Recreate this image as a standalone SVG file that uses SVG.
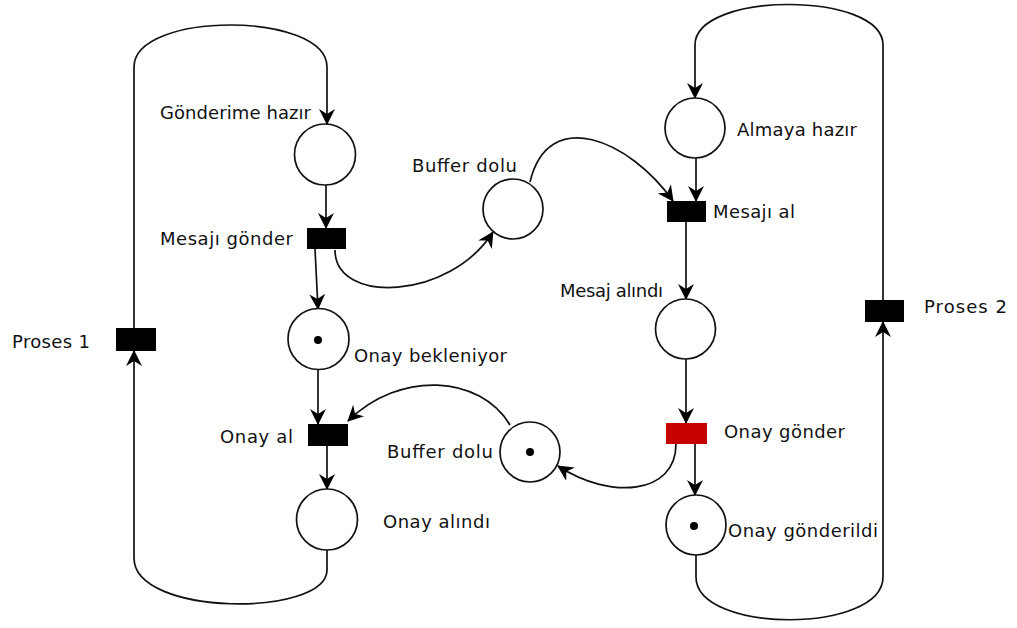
<svg xmlns="http://www.w3.org/2000/svg" width="1017" height="628" viewBox="0 0 1017 628">
  <style>
    .place { fill: #ffffff; stroke: #111111; stroke-width: 1.7; }
    .token { fill: #000000; }
    .trans { fill: #000000; }
    .trans-red { fill: #c40000; }
    .arc { fill: none; stroke: #111111; stroke-width: 1.7; marker-end: url(#arrow); }
    text { font-family: "DejaVu Sans", "Liberation Sans", sans-serif; font-size: 18px; fill: #111111; }
  </style>
  <defs>
    <marker id="arrow" viewBox="0 0 16 16" refX="15" refY="8" markerWidth="16" markerHeight="16" markerUnits="userSpaceOnUse" orient="auto">
      <path d="M0,0 L16,8 L0,16 L5,8 Z" fill="#000000"/>
    </marker>
  </defs>
  <rect width="1017" height="628" fill="#ffffff"/>

  <!-- arcs between places and transitions -->
  <g id="connectors">
    <!-- process 1 loop -->
    <path class="arc" d="M134,328 L134,67 C134,11 327,11 327,67 L327,124"/>
    <path class="arc" d="M326,185 L326,228"/>
    <path class="arc" d="M315,249 L318,309"/>
    <path class="arc" d="M335,250 C335,305 450,300 493,232"/>
    <path class="arc" d="M318,369 L318,424"/>
    <path class="arc" d="M327,446 L327,489"/>
    <path class="arc" d="M327,550 L327,570 C327,617 134,617 134,558 L134,351"/>
    <!-- buffers -->
    <path class="arc" d="M530,182 C548,105 630,140 673,201"/>
    <path class="arc" d="M510,425 C480,375 400,370 348,421"/>
    <path class="arc" d="M676,444 C676,495 610,500 558,466"/>
    <!-- process 2 loop -->
    <path class="arc" d="M883,300 L883,45 C883,-9 695,-9 695,45 L695,98"/>
    <path class="arc" d="M696,158 L696,201"/>
    <path class="arc" d="M686,222 L686,299"/>
    <path class="arc" d="M686,359 L686,423"/>
    <path class="arc" d="M695,444 L695,495"/>
    <path class="arc" d="M696,555 L696,577 C696,634 883,634 883,577 L883,322"/>
  </g>

  <!-- places -->
  <g id="p-gonderime-hazir">
    <circle class="place" cx="325" cy="154.5" r="30.5"/>
    <text x="160" y="119" textLength="151" lengthAdjust="spacing">Gönderime hazır</text>
  </g>
  <g id="p-buffer-dolu-1">
    <circle class="place" cx="513" cy="209" r="30"/>
    <text x="412" y="172" textLength="105" lengthAdjust="spacing">Buffer dolu</text>
  </g>
  <g id="p-almaya-hazir">
    <circle class="place" cx="695" cy="128" r="30"/>
    <text x="737" y="136" textLength="120" lengthAdjust="spacing">Almaya hazır</text>
  </g>
  <g id="p-onay-bekleniyor">
    <circle class="place" cx="318.5" cy="339" r="30.5"/>
    <circle class="token" cx="318" cy="340" r="4"/>
    <text x="354" y="362" textLength="153" lengthAdjust="spacing">Onay bekleniyor</text>
  </g>
  <g id="p-mesaj-alindi">
    <circle class="place" cx="685.5" cy="329" r="30"/>
    <text x="560" y="297" textLength="103" lengthAdjust="spacing">Mesaj alındı</text>
  </g>
  <g id="p-buffer-dolu-2">
    <circle class="place" cx="530" cy="452" r="30"/>
    <circle class="token" cx="530" cy="452" r="4"/>
    <text x="387" y="458" textLength="106" lengthAdjust="spacing">Buffer dolu</text>
  </g>
  <g id="p-onay-alindi">
    <circle class="place" cx="327" cy="519.5" r="30.5"/>
    <text x="383" y="528" textLength="107" lengthAdjust="spacing">Onay alındı</text>
  </g>
  <g id="p-onay-gonderildi">
    <circle class="place" cx="696" cy="525" r="30"/>
    <circle class="token" cx="694" cy="526" r="4"/>
    <text x="728" y="537" textLength="150" lengthAdjust="spacing">Onay gönderildi</text>
  </g>

  <!-- transitions -->
  <g id="t-mesaji-gonder">
    <rect class="trans" x="307" y="228" width="39" height="21"/>
    <text x="160" y="245" textLength="133" lengthAdjust="spacing">Mesajı gönder</text>
  </g>
  <g id="t-mesaji-al">
    <rect class="trans" x="667" y="201" width="39" height="21"/>
    <text x="713" y="218" textLength="82" lengthAdjust="spacing">Mesajı al</text>
  </g>
  <g id="t-proses-1">
    <rect class="trans" x="116" y="328" width="40" height="23"/>
    <text x="12" y="348" textLength="78" lengthAdjust="spacing">Proses 1</text>
  </g>
  <g id="t-proses-2">
    <rect class="trans" x="865" y="300" width="39" height="22"/>
    <text x="924" y="313" textLength="83" lengthAdjust="spacing">Proses 2</text>
  </g>
  <g id="t-onay-al">
    <rect class="trans" x="308" y="424" width="40" height="22"/>
    <text x="220" y="443" textLength="73" lengthAdjust="spacing">Onay al</text>
  </g>
  <g id="t-onay-gonder">
    <rect class="trans-red" x="666" y="423" width="41" height="21"/>
    <text x="724" y="438" textLength="121" lengthAdjust="spacing">Onay gönder</text>
  </g>
</svg>
